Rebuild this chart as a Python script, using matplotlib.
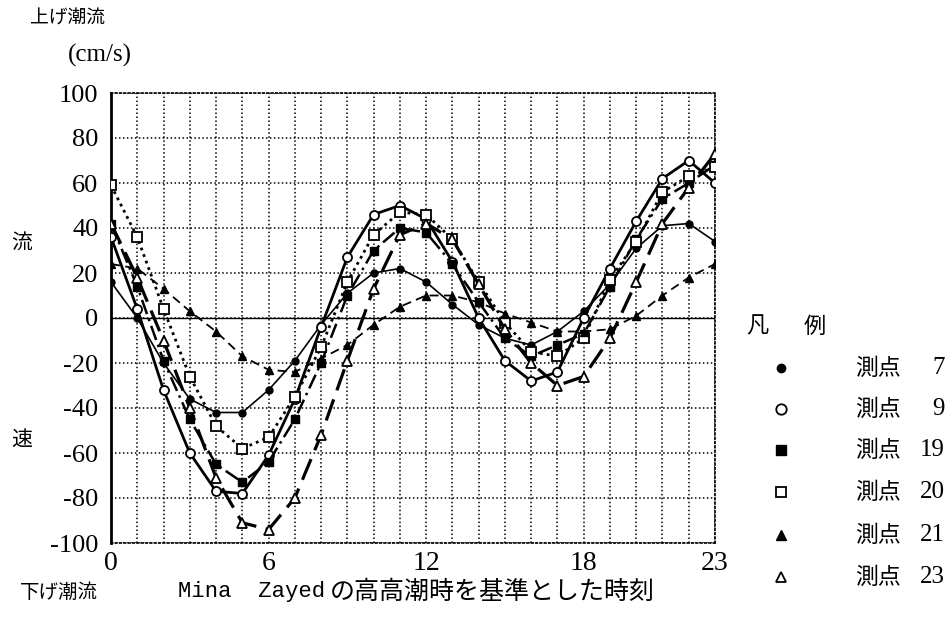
import matplotlib
matplotlib.use('Agg')
import matplotlib.pyplot as plt
from matplotlib.lines import Line2D

hours = list(range(24))
st7  = [16, 0, -20, -36, -42, -42, -32, -19, -3, 11, 20, 22, 16, 6, -3, -9, -12, -6, 3, 15, 31, 41, 42, 34]
st9  = [36, 4, -32, -60, -77, -78, -61, -36, -4, 27, 46, 50, 44, 25, 0, -19, -28, -24, 0, 22, 43, 62, 70, 60]
st19 = [42, 14, -19, -45, -65, -73, -64, -45, -20, 10, 30, 40, 38, 24, 7, -9, -17, -12, -7, 14, 35, 53, 60, 68]
st20 = [59, 36, 4, -26, -48, -58, -53, -35, -13, 16, 37, 47, 46, 35, 16, -2, -15, -17, -9, 17, 34, 56, 63, 67]
st21 = [24, 22, 13, 3, -6, -17, -23, -24, -18, -12, -3, 5, 10, 10, 7, 2, -2, -6, -6, -5, 1, 10, 18, 24]
st23 = [42, 18, -10, -40, -71, -91, -94, -80, -52, -19, 13, 37, 42, 35, 15, -5, -20, -30, -26, -9, 16, 42, 58, 73]

series_names = ['測点 7', '測点 9', '測点19', '測点20', '測点21', '測点23']
x_ticks = [0, 6, 12, 18, 23]
y_ticks = [100, 80, 60, 40, 20, 0, -20, -40, -60, -80, -100]

W, H = 950, 618
fig = plt.figure(figsize=(W / 100, H / 100), dpi=100)
fig.patch.set_facecolor('white')

def fx(px):
    return px / W

def fy(py):
    return 1 - py / H

L, R, T, B = 111, 715, 93, 543
ax = fig.add_axes([fx(L), fy(B), fx(R) - fx(L), fy(T) - fy(B)])

styles = [
    dict(ls='-', lw=1.2, marker='o', ms=5, mfc='black', mec='black'),
    dict(ls='-', lw=2.0, marker='o', ms=6.5, mfc='white', mec='black', mew=1.3),
    dict(ls=(0, (6, 2, 1, 2)), lw=1.8, marker='s', ms=5.5, mfc='black', mec='black'),
    dict(ls=(0, (1, 1.5)), lw=2.0, marker='s', ms=6.5, mfc='white', mec='black', mew=1.3),
    dict(ls=(0, (5, 3)), lw=1.3, marker='^', ms=6, mfc='black', mec='black'),
    dict(ls=(0, (7, 3)), lw=2.3, marker='^', ms=6.5, mfc='white', mec='black', mew=1.3),
]
data = [st7, st9, st19, st20, st21, st23]
for vals, st in zip(data, styles):
    ax.plot(hours, vals, color='black', zorder=3, **st)

ax.set_xlim(0, 23)
ax.set_ylim(-100, 100)
ax.set_xticks(x_ticks)
ax.set_xticks(hours, minor=True)
ax.set_yticks(y_ticks)
ax.set_yticklabels([str(v) for v in y_ticks], fontfamily='Liberation Serif', fontsize=19)
ax.set_xticklabels([str(v) for v in x_ticks], fontfamily='Liberation Serif', fontsize=20)
ax.tick_params(axis='both', which='both', length=0)
ax.tick_params(axis='y', pad=9)
ax.tick_params(axis='x', pad=6)
ax.grid(True, axis='x', which='both', color='black', ls=(0, (1, 1.6)), lw=1.1)
ax.grid(True, axis='y', which='major', color='black', ls=(0, (1, 1.6)), lw=1.1)
ax.axhline(0, color='black', lw=1.0, zorder=2)
for s in ['top', 'right', 'bottom']:
    ax.spines[s].set_linestyle((0, (1, 1.6)))
    ax.spines[s].set_linewidth(1.2)
ax.spines['left'].set_linewidth(2.0)

cjk = ['Noto Sans CJK JP', 'DejaVu Sans']

fig.text(fx(30), fy(18), '上げ潮流', fontfamily=cjk, fontsize=13.5, ha='left', va='center')
fig.text(fx(68), fy(55), '(cm/s)', fontfamily='Liberation Serif', fontsize=18, ha='left', va='center')
fig.text(fx(22), fy(243), '流', fontfamily=cjk, fontsize=15, ha='center', va='center')
fig.text(fx(22), fy(440), '速', fontfamily=cjk, fontsize=15, ha='center', va='center')
fig.text(fx(20), fy(592), '下げ潮流', fontfamily=cjk, fontsize=14, ha='left', va='center')
fig.text(fx(178), fy(592), 'Mina  Zayed', fontfamily='Liberation Mono', fontsize=16,
         ha='left', va='center')
fig.text(fx(330), fy(592), 'の高高潮時を基準とした時刻', fontfamily=cjk, fontsize=18,
         ha='left', va='center')

# legend
fig.text(fx(757), fy(326), '凡', fontfamily=cjk, fontsize=16, ha='center', va='center')
fig.text(fx(815), fy(326), '例', fontfamily=cjk, fontsize=16, ha='center', va='center')
rows = [368, 409, 450, 492, 535, 577]
for name, st, ry in zip(series_names, styles, rows):
    m = Line2D([fx(781)], [fy(ry)], transform=fig.transFigure, color='black', ls='none',
               marker=st['marker'], ms=st['ms'] + 1, mfc=st['mfc'], mec=st['mec'],
               mew=st.get('mew', 1.0))
    fig.add_artist(m)
    fig.text(fx(855), fy(ry), name[:2], fontfamily=cjk, fontsize=16.5, ha='left', va='center')
    fig.text(fx(945), fy(ry), name[2:].strip(), fontfamily='Liberation Serif', fontsize=18,
             ha='right', va='center')

fig.savefig('out.png', dpi=100, facecolor='white')
